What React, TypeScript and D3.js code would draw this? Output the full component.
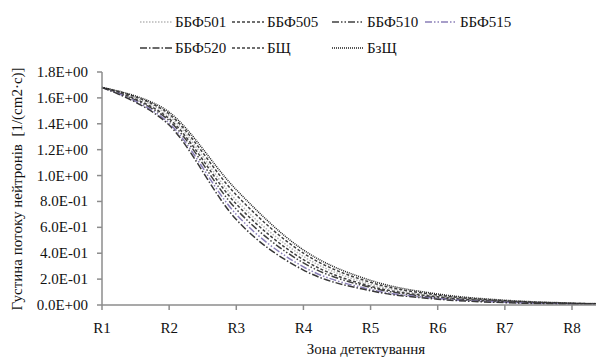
import { useEffect, useRef } from 'react';
import * as d3 from 'd3';

const zones = ['R1', 'R2', 'R3', 'R4', 'R5', 'R6', 'R7', 'R8', 'R9'];
const yTicks = [0, 0.2, 0.4, 0.6, 0.8, 1.0, 1.2, 1.4, 1.6, 1.8];

const bzsch = [1.68, 1.49, 0.89, 0.425, 0.19, 0.085, 0.037, 0.015, 0.006];
const bsch = [1.68, 1.475, 0.85, 0.4, 0.175, 0.077, 0.033, 0.013, 0.005];
const bbf501 = [1.68, 1.46, 0.81, 0.375, 0.16, 0.07, 0.03, 0.012, 0.005];
const bbf505 = [1.68, 1.44, 0.78, 0.35, 0.145, 0.063, 0.027, 0.011, 0.004];
const bbf510 = [1.68, 1.425, 0.74, 0.325, 0.135, 0.056, 0.024, 0.01, 0.004];
const bbf515 = [1.68, 1.405, 0.7, 0.295, 0.12, 0.05, 0.021, 0.008, 0.003];
const bbf520 = [1.68, 1.39, 0.66, 0.27, 0.11, 0.045, 0.018, 0.007, 0.003];

const series = [
  { name: 'ББФ501', values: bbf501, color: '#b8b8b8', dash: '1.5,1.5' },
  { name: 'ББФ505', values: bbf505, color: '#404040', dash: '3,2' },
  { name: 'ББФ510', values: bbf510, color: '#404040', dash: '7,2,1.5,2,1.5,2' },
  { name: 'ББФ515', values: bbf515, color: '#8a7fb8', dash: '7,2,1.5,2,1.5,2' },
  { name: 'ББФ520', values: bbf520, color: '#383838', dash: '7,2,1.5,2' },
  { name: 'БЩ', values: bsch, color: '#404040', dash: '3,2' },
  { name: 'БзЩ', values: bzsch, color: '#202020', dash: '1,1' },
];

// legend layout: two rows of four slots
const legendCols = [140, 232, 332, 425];
const legendRows = [22, 48];

const fmt = (v: number) => {
  const [m, e] = v.toExponential(1).split('e');
  const sign = e.startsWith('-') ? '-' : '+';
  const digits = e.replace(/[+-]/, '').padStart(2, '0');
  return `${m}E${sign}${digits}`;
};

const App = () => {
  const svgRef = useRef<SVGSVGElement>(null);

  useEffect(() => {
    if (!svgRef.current) return;
    const svg = d3.select(svgRef.current);
    svg.selectAll('*').remove();

    const font = "'Liberation Serif', 'Times New Roman', Tinos, 'DejaVu Serif', 'Noto Serif', FreeSerif, Times, serif";
    const x = d3.scaleLinear().domain([0, 7]).range([102, 572]);
    const y = d3.scaleLinear().domain([0, 1.8]).range([305, 72]);

    svg.append('rect').attr('width', 596).attr('height', 358).attr('fill', '#fff');

    // lines
    const line = d3.line<number>()
      .x((_, i) => x(i))
      .y(d => y(d))
      .curve(d3.curveCatmullRom.alpha(0));

    series.forEach(s => {
      svg.append('path')
        .datum(s.values)
        .attr('d', line)
        .attr('fill', 'none')
        .attr('stroke', s.color)
        .attr('stroke-width', 1.5)
        .attr('stroke-dasharray', s.dash);
    });

    // axes
    const axisColor = '#8c8c8c';
    svg.append('line')
      .attr('x1', x(0)).attr('x2', 596)
      .attr('y1', y(0)).attr('y2', y(0))
      .attr('stroke', axisColor).attr('stroke-width', 1.5);
    svg.append('line')
      .attr('x1', x(0)).attr('x2', x(0))
      .attr('y1', y(0)).attr('y2', y(1.8))
      .attr('stroke', axisColor).attr('stroke-width', 1.5);

    yTicks.forEach(t => {
      svg.append('line')
        .attr('x1', x(0) - 5).attr('x2', x(0))
        .attr('y1', y(t)).attr('y2', y(t))
        .attr('stroke', axisColor).attr('stroke-width', 1.5);
      svg.append('text')
        .attr('x', 88).attr('y', y(t) + 5)
        .attr('text-anchor', 'end')
        .style('font-family', font).style('font-size', '15px')
        .attr('fill', '#111')
        .text(fmt(t));
    });

    zones.forEach((z, i) => {
      svg.append('line')
        .attr('x1', x(i)).attr('x2', x(i))
        .attr('y1', y(0)).attr('y2', y(0) + 5)
        .attr('stroke', axisColor).attr('stroke-width', 1.5);
      if (x(i) > 590) return; // off the visible area
      svg.append('text')
        .attr('x', x(i)).attr('y', 333)
        .attr('text-anchor', 'middle')
        .style('font-family', font).style('font-size', '15px')
        .attr('fill', '#111')
        .text(z);
    });

    // axis titles
    svg.append('text')
      .attr('x', 366).attr('y', 354)
      .attr('text-anchor', 'middle')
      .style('font-family', font).style('font-size', '15px')
      .attr('fill', '#111')
      .text('Зона детектування');

    svg.append('text')
      .attr('transform', 'translate(22,189) rotate(-90)')
      .attr('text-anchor', 'middle')
      .style('font-family', font).style('font-size', '15px')
      .attr('fill', '#111')
      .style('white-space', 'pre')
      .text('Густина потоку нейтронів  [1/(cm2·c)]');

    // legend
    series.forEach((s, i) => {
      const lx = legendCols[i % 4];
      const ly = legendRows[Math.floor(i / 4)];
      const g = svg.append('g').attr('transform', `translate(${lx},${ly})`);
      g.append('line')
        .attr('x1', 0).attr('x2', 32)
        .attr('y1', 0).attr('y2', 0)
        .attr('stroke', s.color)
        .attr('stroke-width', 1.5)
        .attr('stroke-dasharray', s.dash);
      g.append('text')
        .attr('x', 35).attr('y', 5)
        .style('font-family', font).style('font-size', '15px')
        .attr('fill', '#111')
        .text(s.name);
    });
  }, []);

  return (
    <svg
      ref={svgRef}
      width={596}
      height={358}
      style={{ position: 'absolute', left: 0, top: 0 }}
    />
  );
};

export default App;
